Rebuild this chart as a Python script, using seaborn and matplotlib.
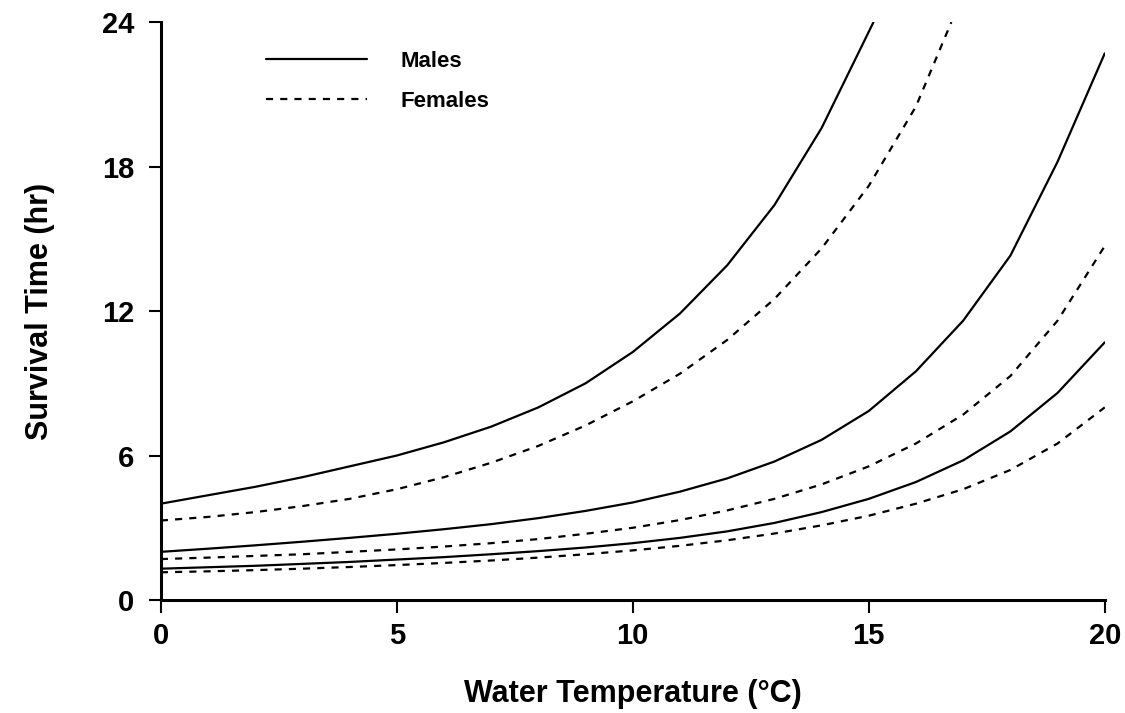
import numpy as np
import pandas as pd
import matplotlib
matplotlib.use("Agg")
import matplotlib.pyplot as plt
import seaborn as sns

# Survival time (hr) vs water temperature, three male/female curve pairs
temps = [0, 1, 2, 3, 4, 5, 6, 7, 8, 9, 10, 11, 12, 13, 14, 15, 16, 17, 18, 19, 20]

# upper pair (both run off the 24 h ceiling)
males_hi_temp = [0, 1, 2, 3, 4, 5, 6, 7, 8, 9, 10, 11, 12, 13, 14, 15, 15.1]
males_hi = [4.0, 4.35, 4.7, 5.1, 5.55, 6.0, 6.55, 7.2, 8.0, 9.0, 10.3, 11.9, 13.9, 16.4, 19.6, 23.6, 24.0]
females_hi_temp = [0, 1, 2, 3, 4, 5, 6, 7, 8, 9, 10, 11, 12, 13, 14, 15, 16, 16.75]
females_hi = [3.3, 3.45, 3.65, 3.9, 4.2, 4.6, 5.1, 5.7, 6.4, 7.25, 8.25, 9.4, 10.8, 12.5, 14.6, 17.2, 20.5, 24.0]

# middle pair
males_mid = [2.0, 2.13, 2.27, 2.42, 2.58, 2.75, 2.94, 3.15, 3.4, 3.7, 4.05, 4.5, 5.05, 5.75, 6.65, 7.85, 9.5, 11.6, 14.3, 18.2, 22.7]
females_mid = [1.7, 1.76, 1.83, 1.9, 2.0, 2.1, 2.22, 2.36, 2.53, 2.75, 3.0, 3.32, 3.72, 4.2, 4.8, 5.55, 6.5, 7.7, 9.3, 11.6, 14.7]

# lower pair
males_lo = [1.3, 1.36, 1.42, 1.5, 1.58, 1.68, 1.78, 1.9, 2.03, 2.18, 2.36, 2.58, 2.85, 3.2, 3.65, 4.2, 4.9, 5.8, 7.0, 8.6, 10.7]
females_lo = [1.15, 1.19, 1.24, 1.3, 1.37, 1.45, 1.54, 1.64, 1.76, 1.9, 2.06, 2.25, 2.48, 2.76, 3.1, 3.5, 4.0, 4.6, 5.4, 6.5, 8.0]

x_ticks = [0, 5, 10, 15, 20]
y_ticks = [0, 6, 12, 18, 24]

sns.set_style("ticks")
plt.rcParams['font.family'] = ['Liberation Sans', 'DejaVu Sans']
plt.rcParams['font.weight'] = 'bold'
for key in ['text.color', 'axes.labelcolor', 'xtick.color', 'ytick.color', 'axes.edgecolor']:
    plt.rcParams[key] = 'black'

fig = plt.figure(figsize=(11.25, 7.13), dpi=100)
ax = fig.add_axes([0.143, 0.1585, 0.839, 0.8105])

solid = dict(color='black', linewidth=1.6, linestyle='-')
dashed = dict(color='black', linewidth=1.6, linestyle=(0, (3.2, 3.2)))

sns.lineplot(x=males_hi_temp, y=males_hi, ax=ax, label='Males', **solid)
sns.lineplot(x=females_hi_temp, y=females_hi, ax=ax, label='Females', **dashed)
sns.lineplot(x=temps, y=males_mid, ax=ax, **solid)
sns.lineplot(x=temps, y=females_mid, ax=ax, **dashed)
sns.lineplot(x=temps, y=males_lo, ax=ax, **solid)
sns.lineplot(x=temps, y=females_lo, ax=ax, **dashed)

ax.set_xlim(0, 20)
ax.set_ylim(0, 24)
ax.set_xticks(x_ticks)
ax.set_yticks(y_ticks)
ax.tick_params(axis='both', direction='out', length=9, width=1.5, labelsize=21)
ax.tick_params(axis='y', pad=10)
ax.tick_params(axis='x', pad=7)
for lbl in ax.get_xticklabels() + ax.get_yticklabels():
    lbl.set_fontweight('bold')

sns.despine(ax=ax)
for side in ['left', 'bottom']:
    ax.spines[side].set_linewidth(2.2)

ax.set_xlabel('Water Temperature (\u00b0C)', fontsize=22, fontweight='bold', labelpad=21)
ax.set_ylabel('Survival Time (hr)', fontsize=22, fontweight='bold', labelpad=34)

leg = ax.legend(loc='upper left', bbox_to_anchor=(0.09, 0.985), frameon=False,
                fontsize=16, handlelength=4.55, handletextpad=1.5, labelspacing=0.87)
for t in leg.get_texts():
    t.set_fontweight('bold')

fig.savefig('out.png', dpi=100)
